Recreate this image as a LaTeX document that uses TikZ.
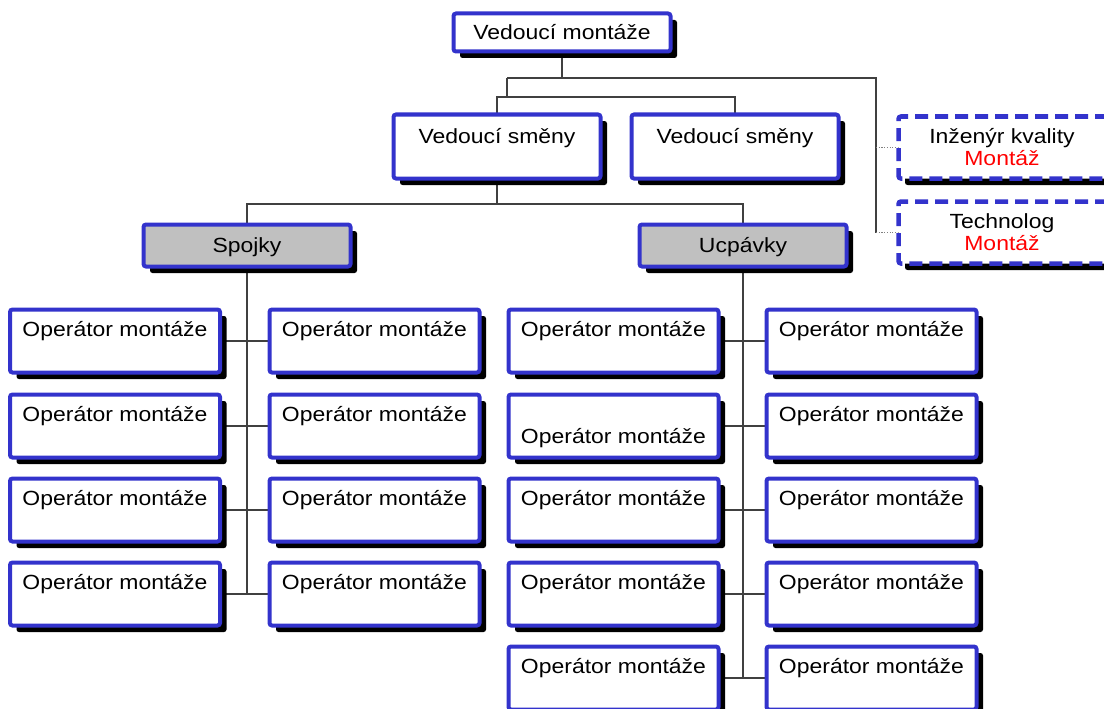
\documentclass[tikz,border=0pt]{standalone}
\usepackage{fontspec}
\setmainfont{Liberation Sans}
\usetikzlibrary{shadows,calc}
\pgfdeclarelayer{bg}
\pgfsetlayers{bg,main}
\definecolor{bbl}{RGB}{51,51,204}
\definecolor{lng}{RGB}{64,64,64}
\definecolor{gfill}{RGB}{192,192,192}
\definecolor{redt}{RGB}{255,0,0}
\newcommand{\stx}[1]{\scalebox{1.12}[1]{#1}}
\begin{document}
\begin{tikzpicture}[x=1pt,y=-1pt,
 bx/.style={draw=bbl, line width=4pt, fill=white, rounded corners=2.5pt, inner sep=0pt, outer sep=0pt, anchor=north west,
   general shadow={fill=black, shadow xshift=6.5pt, shadow yshift=-6.5pt}},
 opbox/.style={bx, minimum width=210pt, minimum height=63pt},
 dbx/.style={bx, dash pattern=on 13pt off 7pt, line width=4.5pt, minimum width=212pt, minimum height=62pt},
 txt/.style={font=\fontsize{20.5}{22}\selectfont, anchor=base, inner sep=0pt, text=black},
 conn/.style={draw=lng, line width=1.6pt},
 dotl/.style={draw=gray, line width=1.2pt, dash pattern=on 1.2pt off 1.5pt}]
\useasboundingbox (0,0) rectangle (1104,709);

% top level
\node[bx, minimum width=217pt, minimum height=38pt] (top) at (453.5,13.5) {};
\node[txt] (ttop) at (562,39.5) {\stx{Vedoucí montáže}};

\node[bx, minimum width=207pt, minimum height=64pt] (vs1) at (393.5,114.5) {};
\node[txt] (tvs1) at (497,143) {\stx{Vedoucí směny}};
\node[bx, minimum width=207pt, minimum height=64pt] (vs2) at (631.5,114.5) {};
\node[txt] (tvs2) at (735,143) {\stx{Vedoucí směny}};

\node[bx, fill=gfill, minimum width=207pt, minimum height=42pt] (spo) at (143.5,224.5) {};
\node[txt] (tspo) at (247,252) {\stx{Spojky}};
\node[bx, fill=gfill, minimum width=207pt, minimum height=42pt] (ucp) at (639.5,224.5) {};
\node[txt] (tucp) at (743,252) {\stx{Ucpávky}};

% dashed staff boxes
\node[dbx] (ink) at (898.5,116.5) {};
\node[txt] (tink) at (1002,143) {\stx{Inženýr kvality}};
\node[txt, text=redt] (tink2) at (1002,165) {\stx{Montáž}};
\node[dbx] (tech) at (898.5,201.5) {};
\node[txt] (ttech) at (1002,228) {\stx{Technolog}};
\node[txt, text=redt] (ttech2) at (1002,250) {\stx{Montáž}};

% operators
\foreach \c/\x in {1/10,2/269.5}
  \foreach \r/\y in {1/309.5,2/394.5,3/478.5,4/562.5}{
    \node[opbox] (o\c\r) at (\x,\y) {};
    \node[txt] (to\c\r) at (\x+105,\y+26.5) {\stx{Operátor montáže}};
  }
\foreach \r/\y/\t in {1/309.5/26.5,2/394.5/48.5,3/478.5/26.5,4/562.5/26.5,5/646.5/26.5}{
    \node[opbox] (o3\r) at (508.5,\y) {};
    \node[txt] (to3\r) at (613.5,\y+\t) {\stx{Operátor montáže}};
  }
\foreach \r/\y in {1/309.5,2/394.5,3/478.5,4/562.5,5/646.5}{
    \node[opbox] (o4\r) at (766.5,\y) {};
    \node[txt] (to4\r) at (871.5,\y+26.5) {\stx{Operátor montáže}};
  }

% connectors
\begin{pgfonlayer}{bg}
\coordinate (h1L) at (507,78);
\coordinate (h1R) at (876,78);
\coordinate (h2) at (507,97);
\coordinate (h3) at (497,204);
\draw[conn] (top.south) -- (top.south |- h1L);
\draw[conn] (h1L) -- (h1R) -- (h1R |- tech.west);
\draw[conn] (h1L) -- (h2);
\draw[conn] (vs1.north) |- (h2) -| (vs2.north);
\draw[dotl] (h1R |- ink.west) -- (ink.west);
\draw[dotl] (h1R |- tech.west) -- (tech.west);
\draw[conn] (vs1.south) -- (h3);
\draw[conn] (spo.north) |- (h3) -| (ucp.north);
\draw[conn] (spo.south) -- (spo.south |- o14.east);
\draw[conn] (ucp.south) -- (ucp.south |- o35.east);
\foreach \r in {1,...,4} \draw[conn] (o1\r.east) -- (o2\r.west);
\foreach \r in {1,...,5} \draw[conn] (o3\r.east) -- (o4\r.west);
\end{pgfonlayer}
\end{tikzpicture}
\end{document}
